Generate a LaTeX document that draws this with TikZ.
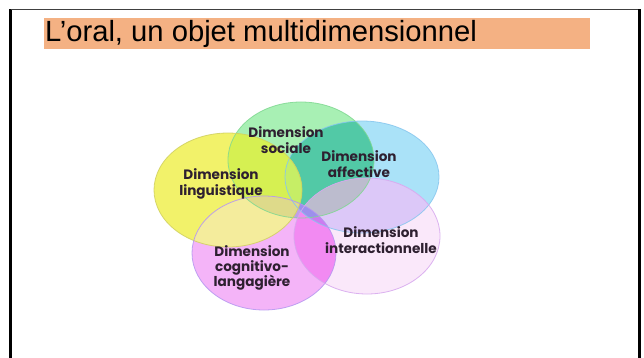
\documentclass[tikz,border=0pt]{standalone}
\usepackage{fontspec}
\setmainfont{Liberation Sans}
\newfontfamily\labfont{Poppins}
\begin{document}
\begin{tikzpicture}[x=1pt,y=-1pt,
  frameline/.style={line width=2.5pt,black},
  titlebox/.style={fill=titleorange,draw=none},
  lab/.style={font=\labfont\bfseries\fontsize{13.6}{15.3}\selectfont,text=labtext,align=center,inner sep=0pt},
  rim/.style={line width=0.8pt,draw opacity=0.85}]
\definecolor{titleorange}{HTML}{F4B183}
\definecolor{labtext}{HTML}{2E2030}
\definecolor{cG}{HTML}{A8F0B4}
\definecolor{cB}{HTML}{AAE2F8}
\definecolor{cY}{HTML}{F2F26A}
\definecolor{cP}{HTML}{F4B4F8}
\definecolor{cL}{HTML}{FAE8FA}
\definecolor{cGB}{HTML}{52C9A6}
\definecolor{cGY}{HTML}{D6F052}
\definecolor{cBY}{HTML}{C8EC78}
\definecolor{cGP}{HTML}{C0A0E8}
\definecolor{cGL}{HTML}{B8B8CC}
\definecolor{cBP}{HTML}{B88CF0}
\definecolor{cBL}{HTML}{DCC8F8}
\definecolor{cYP}{HTML}{F4EC9C}
\definecolor{cPL}{HTML}{F28AF2}
\definecolor{cGBY}{HTML}{C6EE66}
\definecolor{cGBL}{HTML}{BCBCCE}
\definecolor{cGYP}{HTML}{DEDA8A}
\definecolor{cBPL}{HTML}{CC7CF0}
\definecolor{cGBP}{HTML}{9C90EC}
\definecolor{rG}{HTML}{7FD891}
\definecolor{rB}{HTML}{86C6EE}
\definecolor{rY}{HTML}{D0D060}
\definecolor{rP}{HTML}{B496F0}
\definecolor{rL}{HTML}{D6A6EE}
\def\EG{(301,160) ellipse [x radius=73pt, y radius=58pt]}
\def\EB{(362,177) ellipse [x radius=77pt, y radius=56pt]}
\def\EY{(228,190) ellipse [x radius=74pt, y radius=57pt]}
\def\EP{(264,253) ellipse [x radius=72pt, y radius=57pt]}
\def\EL{(367,236) ellipse [x radius=73pt, y radius=58pt]}
\useasboundingbox (0,0) rectangle (644,358);
\fill[white] (0,0) rectangle (644,358);
% frame
\draw[frameline] (10.5,358) -- (10.5,9.5);
\draw[line width=1.6pt,black!75] (10.5,9.5) -- (639.5,9.5);
\draw[line width=3pt,black] (639.5,9.5) -- (639.5,358);
% title
\fill[titlebox] (44,18) rectangle (590,49);
\node[anchor=base west,inner sep=0pt,font=\fontsize{29.2}{31}\selectfont] (title) at (45,41.7) {L’oral, un objet multidimensionnel};
% single regions
\fill[cG] \EG; \fill[cB] \EB; \fill[cY] \EY; \fill[cP] \EP; \fill[cL] \EL;
% pairs
\begin{scope}\clip \EG; \fill[cGB] \EB; \end{scope}
\begin{scope}\clip \EG; \fill[cGY] \EY; \end{scope}
\begin{scope}\clip \EB; \fill[cBY] \EY; \end{scope}
\begin{scope}\clip \EG; \fill[cGP] \EP; \end{scope}
\begin{scope}\clip \EG; \fill[cGL] \EL; \end{scope}
\begin{scope}\clip \EB; \fill[cBP] \EP; \end{scope}
\begin{scope}\clip \EB; \fill[cBL] \EL; \end{scope}
\begin{scope}\clip \EY; \fill[cYP] \EP; \end{scope}
\begin{scope}\clip \EP; \fill[cPL] \EL; \end{scope}
% triples
\begin{scope}\clip \EG; \clip \EB; \fill[cGBY] \EY; \end{scope}
\begin{scope}\clip \EG; \clip \EB; \fill[cGBL] \EL; \end{scope}
\begin{scope}\clip \EG; \clip \EY; \fill[cGYP] \EP; \end{scope}
\begin{scope}\clip \EB; \clip \EP; \fill[cBPL] \EL; \end{scope}
\begin{scope}\clip \EG; \clip \EB; \fill[cGBP] \EP; \end{scope}
\begin{scope}\clip \EB; \clip \EY; \fill[cGYP] \EP; \end{scope}
% rims
\draw[rim,rG] \EG; \draw[rim,rB] \EB; \draw[rim,rY] \EY; \draw[rim,rP] \EP; \draw[rim,rL] \EL;
% labels
\node[lab] (soc) at (286,140) {Dimension\\sociale};
\node[lab] (aff) at (359,164) {Dimension\\affective};
\node[lab] (ling) at (221,184) {Dimension\\linguistique};
\node[lab] (inter) at (381,240) {Dimension\\interactionnelle};
\node[lab] (cog) at (252,268) {Dimension\\cognitivo-\\langagière};
\end{tikzpicture}
\end{document}
